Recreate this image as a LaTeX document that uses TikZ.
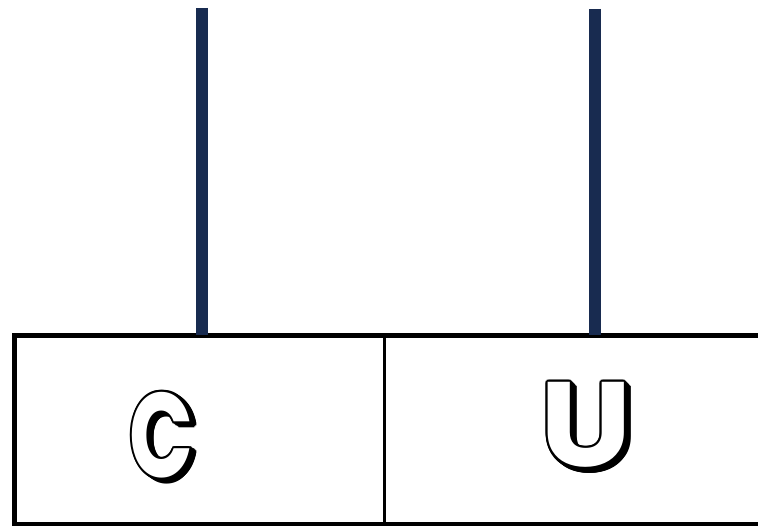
\documentclass[tikz,border=0pt]{standalone}
\usepackage{fontspec}
\newfontfamily\lettfont{Poppins}[BoldFont=* Bold]
\definecolor{navy}{HTML}{182B50}
\usetikzlibrary{calc}

\tikzset{
  wall/.style={line width=5pt,black},
  divider/.style={line width=3pt,black},
  rod/.style={line width=12pt,navy},
  cell/.style={minimum height=189pt,inner sep=0pt,outer sep=0pt},
  lett/.style={font=\lettfont\bfseries\fontsize{120}{120}\selectfont,inner sep=0pt}
}
% outlined letter with a small extruded shadow
\newcommand\outlet[4]{%
  \foreach \d in {0,1.5,3,4.5}
    \foreach \a in {0,30,...,330}
      \node[lett,xscale=#4,black] at ($(#2)+(\d,.8*\d)+(\a:2.2)$) {#3};
  \node[lett,xscale=#4,white] (#1) at (#2) {#3};
}

\begin{document}
\begin{tikzpicture}[x=1pt,y=-1pt]
\useasboundingbox (0,0) rectangle (758,526);
\clip (0,0) rectangle (758,526);
% the two cells
\node[cell,minimum width=370.5pt] (lcell) at (199.25,430) {};
\node[cell,minimum width=446pt] (rcell) at (607,430) {};
\draw[wall] (rcell.north east) -- (lcell.north west) -- (lcell.south west) -- (rcell.south east);
\draw[divider] (lcell.north east) -- (lcell.south east);
% rods
\coordinate (ltop) at (201.5,8);
\coordinate (rtop) at (595,9);
\draw[rod] (ltop) -- (ltop |- lcell.north);
\draw[rod] (rtop) -- (rtop |- rcell.north);
% letters
\coordinate (cpos) at (162,435);
\coordinate (upos) at (586,425);
\outlet{cl}{cpos}{C}{.7}
\outlet{ul}{upos}{U}{1.08}
\end{tikzpicture}
\end{document}
